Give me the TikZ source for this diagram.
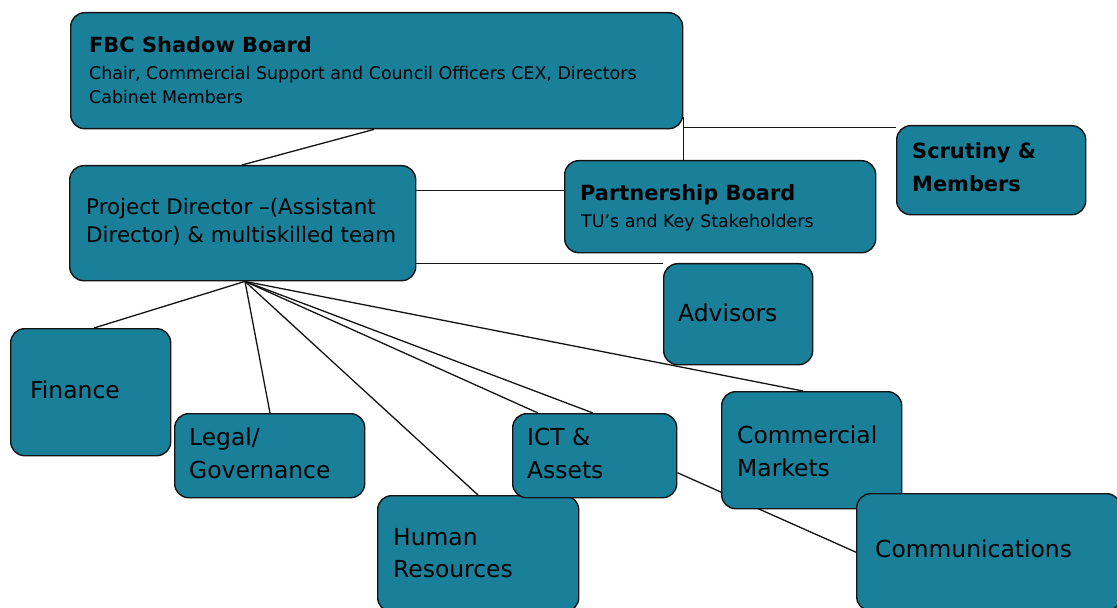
\documentclass[tikz,border=0pt]{standalone}
\usepackage{fontspec}
\usetikzlibrary{backgrounds}
\newfontfamily\djv{DejaVu Sans}
\definecolor{boxteal}{RGB}{26,128,154}
\definecolor{edgegray}{RGB}{20,20,20}
\tikzset{
  box/.style={draw=edgegray, line width=1.4bp, fill=boxteal, rounded corners=14bp,
    inner sep=0pt, anchor=north west},
  conn/.style={draw=edgegray, line width=1.3bp},
  txt/.style={anchor=base west, inner sep=0pt, text=black},
  body/.style={txt, font=\djv\fontsize{23.5}{26}\selectfont},
  pdtxt/.style={txt, font=\djv\fontsize{21.5}{24}\selectfont},
  bold/.style={txt, font=\djv\bfseries\fontsize{21}{24}\selectfont},
  small/.style={txt, font=\djv\fontsize{17.5}{20}\selectfont}
}
\begin{document}
\begin{tikzpicture}[x=1bp,y=-1bp]
\useasboundingbox (0,0) rectangle (1117,608);
% boxes
\node[box, minimum width=612bp, minimum height=116bp] (fbc) at (70,12) {};
\node[box, minimum width=346bp, minimum height=115bp] (pd) at (69,165) {};
\node[box, minimum width=311bp, minimum height=92bp] (pb) at (564,160) {};
\node[box, minimum width=189bp, minimum height=89bp] (scr) at (896,125) {};
\node[box, minimum width=149bp, minimum height=101bp] (adv) at (663,263) {};
\node[box, minimum width=160bp, minimum height=127bp] (fin) at (10,328) {};
\node[box, minimum width=190bp, minimum height=84bp] (leg) at (174,413) {};
\node[box, minimum width=201bp, minimum height=116bp] (hr) at (377,495) {};
\node[box, minimum width=164bp, minimum height=84bp] (ict) at (512,413) {};
\node[box, minimum width=180bp, minimum height=117bp] (com) at (721,391) {};
\node[box, minimum width=264bp, minimum height=117bp] (comm) at (856,493) {};
% connectors beneath the boxes
\begin{scope}[on background layer]
\fill[white] (0,0) rectangle (1117,608);
\coordinate (hub) at ([xshift=176bp]pd.south west);
\coordinate (jn) at ([yshift=-57bp]fbc.east);
\coordinate (vtop) at ([yshift=-46bp]fbc.east);
\draw[conn] ([xshift=304bp]fbc.south west) -- ([xshift=173bp]pd.north west);
\draw[conn] (vtop) -- (vtop |- pb.north);
\draw[conn] (jn) -- (jn -| scr.west);
\draw[conn] ([yshift=33bp]pd.east) -- ([yshift=33bp]pd.east -| pb.west);
\draw[conn] ([yshift=-40bp]pd.east) -- ([yshift=-40bp]pd.east -| adv.west);
\draw[conn] (hub) -- ([xshift=84bp]fin.north west);
\draw[conn] (hub) -- ([xshift=96bp]leg.north west);
\draw[conn] (hub) -- ([xshift=101bp]hr.north west);
\draw[conn] (hub) -- ([xshift=26bp]ict.north west);
\draw[conn] (hub) -- ([xshift=81bp]ict.north west);
\draw[conn] (hub) -- ([xshift=82bp]com.north west);
\draw[conn] ([yshift=-17bp]ict.east) -- (comm.west);
\end{scope}
% texts
\node[bold] (t1) at (89,53) {FBC Shadow Board};
\node[small] (t2) at (89,80) {Chair, Commercial Support and Council Officers CEX, Directors};
\node[small] (t3) at (89,104) {Cabinet Members};
\node[pdtxt] (t4) at (86,215) {Project Director –(Assistant};
\node[pdtxt] (t5) at (86,243) {Director) \& multiskilled team};
\node[bold] (t6) at (580,201) {Partnership Board};
\node[small] (t7) at (581,228) {TU’s and Key Stakeholders};
\node[bold] (t8) at (912,159) {Scrutiny \&};
\node[bold] (t9) at (912,192) {Members};
\node[body] (t10) at (678,322) {Advisors};
\node[body] (t11) at (30,398) {Finance};
\node[body] (t12) at (189,445) {Legal/};
\node[body] (t13) at (189,478) {Governance};
\node[body] (t14) at (393,545) {Human};
\node[body] (t15) at (393,577) {Resources};
\node[body] (t16) at (527,445) {ICT \&};
\node[body] (t17) at (527,478) {Assets};
\node[body] (t18) at (737,443) {Commercial};
\node[body] (t19) at (737,476) {Markets};
\node[body] (t20) at (875,557) {Communications};
\end{tikzpicture}
\end{document}
